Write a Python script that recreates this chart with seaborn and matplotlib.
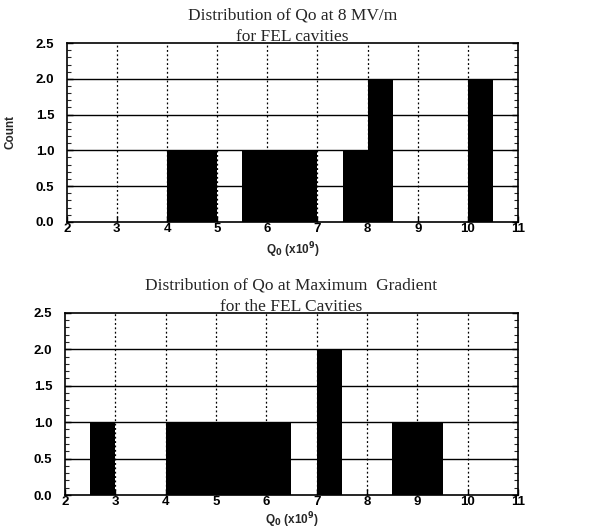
import numpy as np
import pandas as pd
import matplotlib
matplotlib.use("Agg")
import matplotlib.pyplot as plt
import seaborn as sns
from matplotlib.ticker import MultipleLocator

# Data: bin left edges (width 0.5) and counts
bin_left_8mv = [4.0, 4.5, 5.5, 6.0, 6.5, 7.5, 8.0, 10.0]
count_8mv = [1, 1, 1, 1, 1, 1, 2, 2]
bin_left_max = [2.5, 4.0, 4.5, 5.0, 5.5, 6.0, 7.0, 8.5, 9.0]
count_max = [1, 1, 1, 1, 1, 1, 2, 1, 1]

bin_width = 0.5
x_min, x_max = 2, 11
y_ticks = [0.0, 0.5, 1.0, 1.5, 2.0, 2.5]
x_ticks = list(range(2, 12))

title_top = "Distribution of Qo at 8 MV/m\nfor FEL cavities"
title_bot = "Distribution of Qo at Maximum  Gradient\nfor the FEL Cavities"
xlabel = r"Q$_{\mathbf{0}}$ (x10$^{\mathbf{9}}$)"

sns.set_theme(style="white")
plt.rcParams["font.family"] = ["Liberation Sans", "DejaVu Sans"]

fig = plt.figure(figsize=(6.01, 5.32), dpi=100)
ax1 = fig.add_axes([0.111, 0.583, 0.751, 0.336])
ax2 = fig.add_axes([0.108, 0.0695, 0.754, 0.3425])

def draw(ax, lefts, counts, title, ylabel, xlabelpad):
    df = pd.DataFrame({"q": np.array(lefts) + bin_width / 2,
                       "n": np.array(counts, dtype=float)})
    sns.histplot(data=df, x="q", weights="n", binwidth=bin_width,
                 binrange=(x_min, x_max), ax=ax,
                 color="black", alpha=1.0, edgecolor="black", linewidth=0,
                 zorder=3)
    ax.set_xlim(x_min, x_max)
    ax.set_ylim(0, 2.5)
    ax.set_xticks(x_ticks)
    ax.set_yticks(y_ticks)
    ax.set_yticklabels([f"{v:.1f}" for v in y_ticks])
    ax.yaxis.set_minor_locator(MultipleLocator(0.1))
    for v in y_ticks[1:-1]:
        ax.axhline(v, color="black", lw=1.0, zorder=1)
    for v in x_ticks[1:-1]:
        ax.axvline(v, color="black", lw=0.9, ls=(0, (1.5, 2)), zorder=1)
    ax.tick_params(axis="both", which="major", direction="in", length=4,
                   width=1, colors="black", labelsize=9.5)
    ax.tick_params(axis="y", which="both", right=True, left=True, pad=9)
    ax.tick_params(axis="y", which="minor", direction="in", length=3, width=0.8)
    ax.tick_params(axis="x", which="major", bottom=True, top=False, pad=1)
    for lbl in ax.get_xticklabels() + ax.get_yticklabels():
        lbl.set_fontweight("bold")
    for s in ax.spines.values():
        s.set_color("black")
        s.set_linewidth(1.2)
    ax.set_xlabel(xlabel, fontsize=8.5, fontweight="bold", labelpad=xlabelpad)
    ax.set_ylabel(ylabel, fontsize=8.5, fontweight="bold", labelpad=14)
    ax.set_title(title, family=["Liberation Serif", "DejaVu Serif"],
                 fontsize=12.5, linespacing=1.45, pad=1.5)

draw(ax1, bin_left_8mv, count_8mv, title_top, "Count", 4)
draw(ax2, bin_left_max, count_max, title_bot, "", 1.5)

fig.savefig("out.png", dpi=100, facecolor="white")
